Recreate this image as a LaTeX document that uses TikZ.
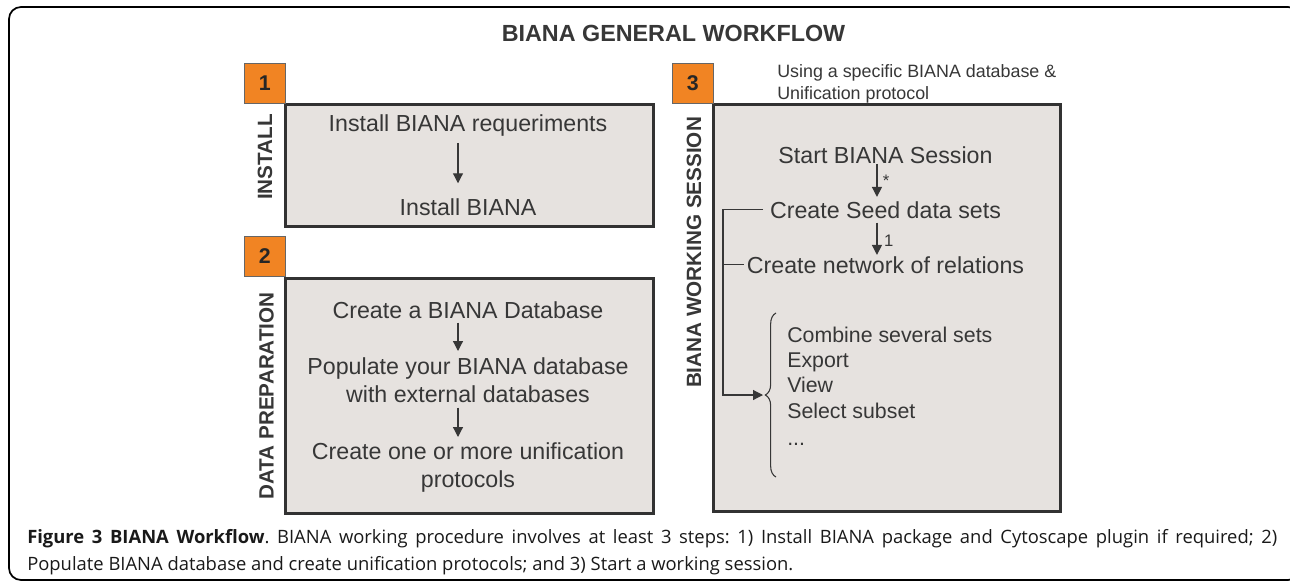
\documentclass[tikz,border=0pt]{standalone}
\usepackage{fontspec}
\setmainfont{Liberation Sans}
\newfontfamily\capfont{Open Sans}
\usetikzlibrary{arrows.meta,decorations.pathreplacing,calc}
\definecolor{borange}{RGB}{241,132,35}
\definecolor{bfill}{RGB}{230,226,223}
\definecolor{bdark}{RGB}{50,50,50}
\definecolor{btext}{RGB}{55,55,55}
\frenchspacing
\begin{document}
\begin{tikzpicture}[x=0.75pt,y=-0.75pt,
  mainbox/.style={draw=bdark, line width=2.2pt, fill=bfill, anchor=north west, inner sep=0pt},
  numbox/.style={draw=black!60, line width=0.6pt, fill=borange, anchor=north west,
    minimum width=30.75pt, minimum height=30pt, inner sep=0pt,
    font=\fontsize{16}{18}\selectfont\bfseries, text=black!85},
  sidelab/.style={rotate=90, font=\fontsize{15.5}{18}\selectfont\bfseries, text=btext, inner sep=0pt},
  boxtxt/.style={font=\fontsize{17.4}{21}\selectfont, text=btext, inner sep=0pt, align=center},
  listtxt/.style={font=\fontsize{16}{19}\selectfont, text=btext, inner sep=0pt, anchor=base west},
  smalltxt/.style={font=\fontsize{13.4}{16.5}\selectfont, text=btext, inner sep=0pt, anchor=base west},
  marktxt/.style={font=\fontsize{12.5}{14}\selectfont, text=btext, inner sep=0pt},
  flowarr/.style={-{Triangle[length=7.5pt,width=7.5pt]}, line width=0.9pt, draw=btext},
  thinline/.style={line width=0.9pt, draw=btext},
  frame/.style={draw=black, line width=1.3pt, rounded corners=9pt},
  capnode/.style={anchor=north west, inner sep=0pt, text width=937.5pt, align=justify,
    font=\capfont\fontsize{13.8}{20.25}\selectfont, text=black!90}
]
\useasboundingbox (0,0) rectangle (1290,583);
% outer frame
\draw[frame] (9,7) rectangle (1300,580);

% title
\node[font=\fontsize{17.5}{20}\selectfont\bfseries, text=btext, inner sep=0pt, anchor=base] (title) at (673.5,41.3) {BIANA GENERAL WORKFLOW};

% ---------- box 1 ----------
\node[mainbox, minimum width=276pt, minimum height=91.5pt] (b1) at (284,103) {};
\node[numbox] (n1) at (244,63) {1};
\node[sidelab] (l1) at (265,157) {INSTALL};
\node[boxtxt, anchor=base] (req) at (468,131) {Install BIANA requeriments};
\node[boxtxt, anchor=base] (inst) at (468,215) {Install BIANA};
\draw[flowarr, shorten <=5pt, shorten >=11pt] ([xshift=-7.5pt]req.south) -- ([xshift=-7.5pt]inst.north);

% ---------- box 2 ----------
\node[mainbox, minimum width=276pt, minimum height=176.25pt] (b2) at (284,277) {};
\node[numbox] (n2) at (244,236) {2};
\node[sidelab] (l2) at (266.5,396) {DATA PREPARATION};
\node[boxtxt, anchor=base] (cdb) at (468,318) {Create a BIANA Database};
\node[boxtxt, anchor=north] (pop) at (468,357) {Populate your BIANA database\\with external databases};
\node[boxtxt, anchor=north] (uni) at (468,442) {Create one or more unification\\protocols};
\draw[flowarr, shorten <=3pt, shorten >=4.5pt] ([xshift=-7.5pt]cdb.south) -- ([xshift=-7.5pt]pop.north);
\draw[flowarr, shorten <=3.75pt, shorten >=3.75pt] ([xshift=-7.5pt]pop.south) -- ([xshift=-7.5pt]uni.north);

% ---------- box 3 ----------
\node[mainbox, minimum width=260.25pt, minimum height=305.25pt] (b3) at (712,103) {};
\node[numbox] (n3) at (672,63) {3};
\node[sidelab] (l3) at (694,252.5) {BIANA WORKING SESSION};
\node[smalltxt] (use1) at (777,77) {Using a specific BIANA database \&};
\node[smalltxt] (use2) at (777,99) {Unification protocol};

\node[boxtxt, anchor=base] (start) at (885.5,163) {Start BIANA Session};
\node[boxtxt, anchor=base] (seed) at (885.5,218) {Create Seed data sets};
\node[boxtxt, anchor=base] (net) at (885.5,273) {Create network of relations};
\draw[flowarr, shorten <=0.3pt, shorten >=3pt] ([xshift=-6.4pt]start.south) -- ([xshift=-6.4pt]seed.north) node[marktxt, pos=0.45, right=4pt] (star) {*};
\draw[flowarr, shorten <=3pt, shorten >=0.75pt] ([xshift=-6.4pt]seed.south) -- ([xshift=-6.4pt]net.north) node[marktxt, pos=0.6, right=5pt] (one) {1};

\coordinate (bx) at (723,300);
\coordinate (tip) at (763,395);
\draw[flowarr] ([xshift=-5pt]seed.west) -| (bx |- tip) -- (tip);
\draw[thinline] (seed.west -| bx) -- (bx |- tip);
\draw[thinline] ([xshift=-2.2pt]net.west) -- (net.west -| bx);

\draw[decorate, decoration={brace, amplitude=8pt}, line width=0.8pt, draw=btext] (776,477) -- (776,313);

\node[listtxt] (i1) at (787,342) {Combine several sets};
\node[listtxt] (i2) at (787,367) {Export};
\node[listtxt] (i3) at (787,392) {View};
\node[listtxt] (i4) at (787,418) {Select subset};
\node[listtxt] (i5) at (787,445) {...};

% ---------- caption ----------
\node[capnode] (cap) at (27,529) {\textbf{Figure 3 BIANA Workflow}. BIANA working procedure involves at least 3 steps: 1) Install BIANA package and Cytoscape plugin if required; 2)\linebreak Populate BIANA database and create unification protocols; and 3) Start a working session.};
\end{tikzpicture}
\end{document}
